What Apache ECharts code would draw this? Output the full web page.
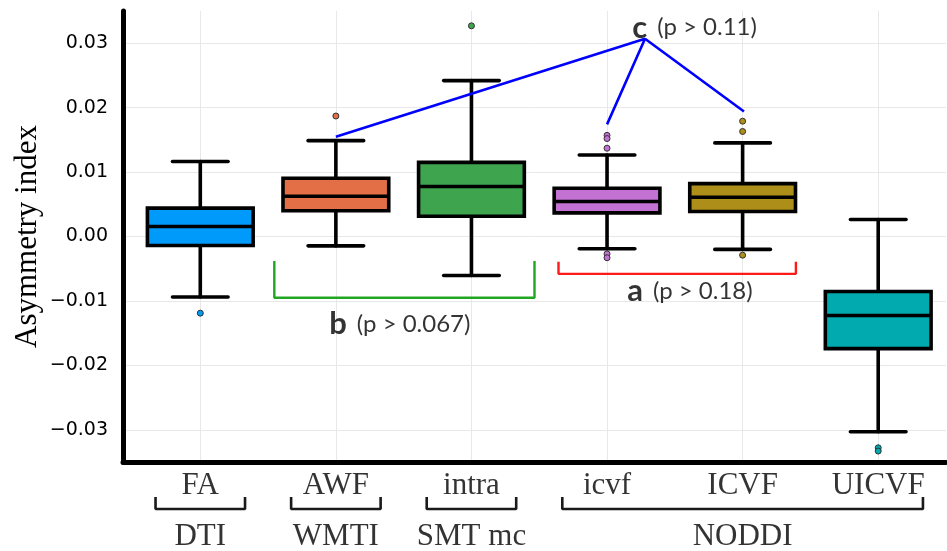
<!DOCTYPE html>
<html>
<head>
<meta charset="utf-8">
<script src="https://cdn.jsdelivr.net/npm/echarts@6/dist/echarts.min.js"></script>
<style>
html,body{margin:0;padding:0;background:#fff;}
#chart{width:947px;height:551px;}
</style>
</head>
<body>
<div id="chart"></div>
<script>
// ---------- data ----------
const categories = ['FA', 'AWF', 'intra', 'icvf', 'ICVF', 'UICVF'];
const whiskerLow  = [-0.0094, -0.00145, -0.00605, -0.0019, -0.0020, -0.0303];
const q1          = [-0.0014,  0.0040,   0.00315,  0.00367, 0.00388, -0.0174];
const median      = [ 0.00155, 0.00625,  0.00775,  0.00543, 0.0061,  -0.01225];
const q3          = [ 0.0044,  0.00905,  0.0115,   0.0075,  0.0082,  -0.00853];
const whiskerHigh = [ 0.01163, 0.01488,  0.0242,   0.01266, 0.01453,  0.00264];

const outlierCategory = ['FA', 'AWF', 'intra', 'icvf', 'icvf', 'icvf', 'icvf', 'icvf', 'ICVF', 'ICVF', 'ICVF', 'UICVF', 'UICVF'];
const outlierValue    = [-0.0119, 0.0187, 0.0327, 0.0157, 0.0152, 0.0137, -0.0027, -0.0033, 0.0179, 0.0163, -0.0029, -0.0328, -0.0333];

const groupNames = ['DTI', 'WMTI', 'SMT mc', 'NODDI'];
const groupFirst = ['FA', 'AWF', 'intra', 'icvf'];
const groupLast  = ['FA', 'AWF', 'intra', 'UICVF'];

const yTickValues = [-0.03, -0.02, -0.01, 0.00, 0.01, 0.02, 0.03];

// annotations (x in category units, y in data units)
const linkC1 = [[2.0, 0.0155], [4.28, 0.0307], [4.0, 0.0174]];
const linkC2 = [[4.28, 0.0307], [5.01, 0.0194]];
const bracketB = [[1.546, -0.0038], [1.546, -0.0095], [3.465, -0.0095], [3.465, -0.0038]];
const bracketA = [[3.642, -0.0039], [3.642, -0.0058], [5.393, -0.0058], [5.393, -0.0039]];
const annotLetters = ['c', 'b', 'a'];
const annotTexts = ['(p > 0.11)', '(p > 0.067)', '(p > 0.18)'];
const annotPos = [[4.186, 0.0324], [1.951, -0.0136], [4.149, -0.0085]];

// ---------- styles ----------
const palette = ['#009AFA', '#E36F47', '#3EA44E', '#C371D2', '#AC8E18', '#00AAAE'];
const X_MIN = 0.43, X_MAX = 6.5;
const BOX_HALF = 0.39, CAP_HALF = 0.205;
const LAB_Y = 24, BR_TOP = 35, BR_BOT = 47, GRP_Y = 75, BR_PAD = 0.33;

const pos = c => categories.indexOf(c) + 1;

const boxData = categories.map((c, i) => [i + 1, whiskerLow[i], q1[i], median[i], q3[i], whiskerHigh[i]]);
const outlierData = outlierValue.map((v, i) => ({
  value: [pos(outlierCategory[i]), v],
  itemStyle: { color: palette[pos(outlierCategory[i]) - 1] }
}));

const series = [];

// vertical grid lines
series.push({
  type: 'line', xAxisIndex: 0, yAxisIndex: 0, z: 0, silent: true,
  data: [], symbol: 'none',
  markLine: {
    z: 0, silent: true, symbol: 'none', label: { show: false },
    lineStyle: { color: '#e8e8e8', width: 1, type: 'solid' },
    data: categories.map((c, i) => ({ xAxis: i + 1 }))
  }
});

series.push({
  type: 'custom', xAxisIndex: 0, yAxisIndex: 0, z: 8,
  data: boxData,
  encode: { x: 0, y: [1, 2, 3, 4, 5] },
  renderItem: function (params, api) {
    const x = api.value(0);
    const lo = api.coord([x, api.value(1)]);
    const b1 = api.coord([x, api.value(2)]);
    const md = api.coord([x, api.value(3)]);
    const b3 = api.coord([x, api.value(4)]);
    const hi = api.coord([x, api.value(5)]);
    const hw = api.size([BOX_HALF, 0])[0];
    const cw = api.size([CAP_HALF, 0])[0];
    const ls = { stroke: '#000', lineWidth: 3.6, lineCap: 'round' };
    return {
      type: 'group',
      children: [
        { type: 'line', shape: { x1: hi[0], y1: hi[1], x2: b3[0], y2: b3[1] }, style: ls },
        { type: 'line', shape: { x1: lo[0], y1: lo[1], x2: b1[0], y2: b1[1] }, style: ls },
        { type: 'line', shape: { x1: hi[0] - cw, y1: hi[1], x2: hi[0] + cw, y2: hi[1] }, style: ls },
        { type: 'line', shape: { x1: lo[0] - cw, y1: lo[1], x2: lo[0] + cw, y2: lo[1] }, style: ls },
        { type: 'rect', shape: { x: b3[0] - hw, y: b3[1], width: 2 * hw, height: b1[1] - b3[1] },
          style: { fill: palette[params.dataIndex], stroke: '#000', lineWidth: 3.6 } },
        { type: 'line', shape: { x1: md[0] - hw, y1: md[1], x2: md[0] + hw, y2: md[1] },
          style: { stroke: '#000', lineWidth: 3.6 } }
      ]
    };
  }
});

series.push({
  type: 'scatter', xAxisIndex: 0, yAxisIndex: 0, z: 9,
  symbolSize: 6, data: outlierData,
  itemStyle: { borderColor: '#333', borderWidth: 1, opacity: 1 }
});

const lineStyleSeries = (data, color, width) => ({
  type: 'line', xAxisIndex: 0, yAxisIndex: 0, z: 10, data: data, symbol: 'none', silent: true,
  lineStyle: { color: color, width: width }, clip: false
});
series.push(lineStyleSeries(linkC1, '#0000FF', 2.6));
series.push(lineStyleSeries(linkC2, '#0000FF', 2.6));
series.push(lineStyleSeries(bracketB, '#22A522', 2.4));
series.push(lineStyleSeries(bracketA, '#FF1A1A', 2.4));

series.push({
  type: 'scatter', xAxisIndex: 0, yAxisIndex: 0, z: 11, symbolSize: 0, silent: true,
  data: annotPos.map(p => p),
  label: {
    show: true, position: 'right', distance: 0, color: '#000',
    formatter: function (p) {
      return '{big|' + annotLetters[p.dataIndex] + '}{small|' + annotTexts[p.dataIndex] + '}';
    },
    rich: {
      big: { fontFamily: 'Lato', fontSize: 31, color: '#000', fontWeight: 'bold' },
      small: { fontFamily: 'Lato', fontSize: 24, color: '#000', padding: [0, 0, 0, 10] }
    }
  }
});

// ---- below-axis labels (second grid) ----
series.push({
  type: 'scatter', xAxisIndex: 1, yAxisIndex: 1, symbolSize: 0, silent: true,
  data: categories.map((c, i) => [i + 1, LAB_Y]),
  label: {
    show: true, position: 'inside',
    formatter: p => categories[p.dataIndex],
    fontFamily: 'Liberation Serif', fontSize: 31, color: '#000'
  }
});
series.push({
  type: 'scatter', xAxisIndex: 1, yAxisIndex: 1, symbolSize: 0, silent: true,
  data: groupNames.map((g, i) => [(pos(groupFirst[i]) + pos(groupLast[i])) / 2, GRP_Y]),
  label: {
    show: true, position: 'inside',
    formatter: p => groupNames[p.dataIndex],
    fontFamily: 'Liberation Serif', fontSize: 31, color: '#000'
  }
});
groupNames.forEach((g, i) => {
  const a = pos(groupFirst[i]) - BR_PAD, b = pos(groupLast[i]) + BR_PAD;
  series.push({
    type: 'line', xAxisIndex: 1, yAxisIndex: 1, symbol: 'none', silent: true, clip: false,
    data: [[a, BR_TOP], [a, BR_BOT], [b, BR_BOT], [b, BR_TOP]],
    lineStyle: { color: '#1a1a1a', width: 2.6 }
  });
});

const chart = echarts.init(document.getElementById('chart'), null, { renderer: 'canvas' });
chart.setOption({
  animation: false,
  backgroundColor: '#fff',
  grid: [
    { left: 123, right: 1, top: 11, bottom: 89 },
    { left: 123, right: 1, top: 462, height: 89 }
  ],
  xAxis: [
    { type: 'value', gridIndex: 0, min: X_MIN, max: X_MAX,
      axisLine: { show: true, onZero: false, lineStyle: { color: '#000', width: 5 } },
      axisTick: { show: false }, axisLabel: { show: false }, splitLine: { show: false } },
    { type: 'value', gridIndex: 1, min: X_MIN, max: X_MAX, show: false }
  ],
  yAxis: [
    { type: 'value', gridIndex: 0, min: -0.035, max: 0.035,
      name: 'Asymmetry index', nameLocation: 'middle', nameGap: 80, nameMoveOverlap: false,
      nameTextStyle: { fontFamily: 'Liberation Serif', fontSize: 31, color: '#000' },
      axisLine: { show: true, onZero: false, lineStyle: { color: '#000', width: 5 } },
      axisTick: { show: false },
      axisLabel: {
        fontFamily: 'DejaVu Sans', fontSize: 19, color: '#000', margin: 15,
        customValues: yTickValues,
        formatter: v => (v < -1e-9 ? '\u2212' : '') + Math.abs(v).toFixed(2)
      },
      splitLine: { show: true, showMinLine: false, showMaxLine: false, lineStyle: { color: '#e8e8e8', width: 1 } }
    },
    { type: 'value', gridIndex: 1, min: 0, max: 89, inverse: true, show: false }
  ],
  series: series
});
</script>
</body>
</html>
